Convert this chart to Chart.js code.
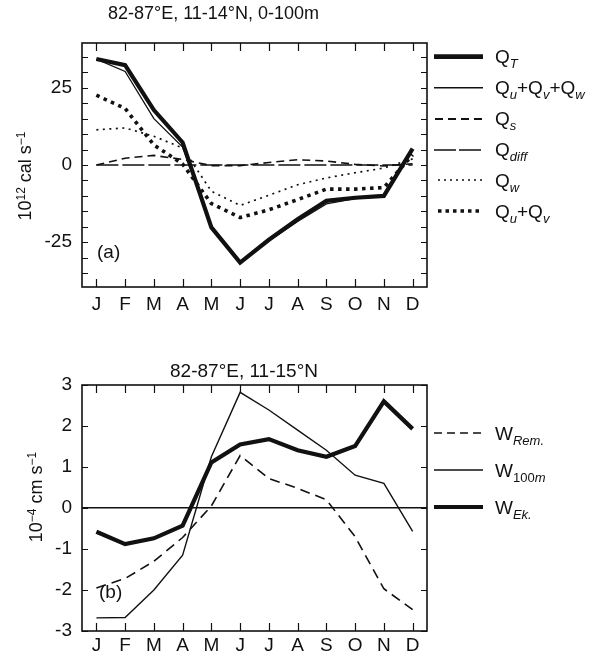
<!DOCTYPE html>
<html>
<head>
<meta charset="utf-8">
<script src="https://cdn.jsdelivr.net/npm/chart.js@4.4.1/dist/chart.umd.min.js"></script>
<style>
  html, body { margin:0; padding:0; background:#fff; }
  body { width:597px; height:654px; position:relative; overflow:hidden;
         font-family:"Liberation Sans", Arial, Helvetica, sans-serif; color:#111; }
  canvas { position:absolute; left:0; }
  .ytitle { position:absolute; white-space:nowrap; font-size:18px; line-height:20px;
            transform:translate(-50%,-50%) rotate(-90deg); }
  .ytitle sup { font-size:12px; vertical-align:6px; line-height:0; }
  .ptitle { position:absolute; white-space:nowrap; font-size:19px; line-height:20px;
            transform:translate(-50%,-50%); }
  .lbl { position:absolute; font-size:19px; line-height:20px; white-space:nowrap; }
  .leg { position:absolute; left:434px; }
  .legtxt { position:absolute; left:495px; font-size:19px; line-height:20px; white-space:nowrap; }
  .legtxt sub { font-size:13px; font-style:italic; vertical-align:-5px; line-height:0; }
  .legtxt sub span { font-style:normal; }
</style>
</head>
<body>
<canvas id="ca" width="488" height="318" style="top:0px"></canvas>
<canvas id="cb" width="488" height="314" style="top:340px"></canvas>

<div class="ptitle" style="left:244px; top:371px;">82-87°E, 11-15°N</div>
<div class="ytitle" style="left:25px; top:176px;">10<sup>12</sup> cal s<sup>−1</sup></div>
<div class="ytitle" style="left:36px; top:497px;">10<sup>−4</sup> cm s<sup>−1</sup></div>
<div class="lbl" style="left:97px; top:242px;">(a)</div>
<div class="lbl" style="left:99px; top:582px;">(b)</div>

<svg class="leg" style="top:47px" width="50" height="120">
  <line x1="0" x2="49" y1="9.7" y2="9.7" stroke="#111" stroke-width="4.8"/>
  <line x1="0" x2="49" y1="40.7" y2="40.7" stroke="#111" stroke-width="1.4"/>
  <line x1="1" x2="49" y1="72" y2="72" stroke="#111" stroke-width="1.8" stroke-dasharray="8 5"/>
  <line x1="0" x2="49" y1="103" y2="103" stroke="#111" stroke-width="1.4" stroke-dasharray="22 3"/>
</svg>
<svg class="leg" style="top:170px" width="50" height="50">
  <line x1="4" x2="49" y1="10" y2="10" stroke="#111" stroke-width="1.6" stroke-dasharray="2 4"/>
  <line x1="4" x2="49" y1="41" y2="41" stroke="#111" stroke-width="3.5" stroke-dasharray="3.5 4"/>
</svg>
<div class="legtxt" style="top:47px">Q<sub>T</sub></div>
<div class="legtxt" style="top:78px">Q<sub>u</sub>+Q<sub>v</sub>+Q<sub>w</sub></div>
<div class="legtxt" style="top:109px">Q<sub>s</sub></div>
<div class="legtxt" style="top:140px">Q<sub>diff</sub></div>
<div class="legtxt" style="top:171px">Q<sub>w</sub></div>
<div class="legtxt" style="top:202px">Q<sub>u</sub>+Q<sub>v</sub></div>

<svg class="leg" style="top:423px" width="50" height="95">
  <line x1="0" x2="49" y1="10" y2="10" stroke="#111" stroke-width="1.6" stroke-dasharray="8 5"/>
  <line x1="0" x2="49" y1="47" y2="47" stroke="#111" stroke-width="1.5"/>
  <line x1="0" x2="49" y1="84" y2="84" stroke="#111" stroke-width="4.2"/>
</svg>
<div class="legtxt" style="top:424px">W<sub>Rem.</sub></div>
<div class="legtxt" style="top:461px">W<sub><span>100</span>m</sub></div>
<div class="legtxt" style="top:498px">W<sub>Ek.</sub></div>

<script>
// ---------- data ----------
const months = ['J','F','M','A','M','J','J','A','S','O','N','D'];

// panel (a): 10^12 cal s^-1
const qT    = [34.3, 32.3, 17.8, 7.3, -20.2, -31.6, -24.2, -17.6, -11.6, -10.6, -10.0, 5.3];
const qUVW  = [34.3, 30.3, 15.0, 5.8, -20.0, -31.4, -24.6, -18.3, -12.6, -10.9, -10.2, 4.8];
const qS    = [0.0, 2.2, 3.1, 1.8, -0.2, -0.2, 0.8, 1.7, 1.3, 0.2, -0.3, 0.4];
const qDiff = [0, 0, 0, 0, 0, 0, 0, 0, 0, 0, 0, 0];
const qW    = [11.4, 12.0, 9.3, 5.5, -8.5, -13.1, -9.8, -6.4, -4.2, -2.5, -1.0, 2.0];
const qUV   = [22.6, 18.3, 6.5, 0.3, -12.5, -17.0, -14.5, -11.2, -7.8, -7.8, -7.3, 3.3];
const yTicksA = [-35,-30,-25,-20,-15,-10,-5,0,5,10,15,20,25,30,35];
const yLabelsA = [-25, 0, 25];

// panel (b): 10^-4 cm s^-1
const wRem  = [-1.95, -1.72, -1.30, -0.72, 0.05, 1.28, 0.72, 0.48, 0.20, -0.70, -1.97, -2.48];
const w100  = [-2.68, -2.67, -2.00, -1.15, 1.25, 2.82, 2.39, 1.90, 1.41, 0.80, 0.60, -0.57];
const wEk   = [-0.58, -0.88, -0.74, -0.43, 1.11, 1.55, 1.68, 1.41, 1.25, 1.51, 2.60, 1.93];
const yTicksB = [-3,-2,-1,0,1,2,3];

// ---------- helpers ----------
const FONT = '"Liberation Sans", Arial, Helvetica, sans-serif';
const INK = '#111';

const frame = {
  id: 'frame',
  afterDraw(chart, args, opts) {
    const {ctx, chartArea:{left,right,top,bottom}, scales:{x,y}} = chart;
    ctx.save();
    ctx.strokeStyle = INK;
    ctx.lineWidth = 1.2;
    ctx.beginPath();
    x.ticks.forEach((t,i) => {
      const px = Math.round(x.getPixelForTick(i)) + 0.5;
      ctx.moveTo(px, top); ctx.lineTo(px, top + opts.xLen);
      ctx.moveTo(px, bottom); ctx.lineTo(px, bottom - opts.xLen);
    });
    y.ticks.forEach(t => {
      const py = Math.round(y.getPixelForValue(t.value)) + 0.5;
      ctx.moveTo(left, py); ctx.lineTo(left + opts.yLen, py);
      ctx.moveTo(right, py); ctx.lineTo(right - opts.yLen, py);
    });
    ctx.stroke();
    ctx.lineWidth = 1.6;
    ctx.strokeRect(left, top, right - left, bottom - top);
    ctx.restore();
  }
};

function ds(data, width, dash) {
  return { data, borderColor: INK, borderWidth: width, borderDash: dash || [],
           pointRadius: 0, tension: 0, fill: false, borderCapStyle: 'butt', borderJoinStyle: 'miter' };
}

function makeOpts(cfg) {
  return {
    responsive: false, animation: false, devicePixelRatio: 1,
    layout: { padding: { left: 0, right: 61, top: cfg.padT, bottom: 0 } },
    plugins: {
      legend: { display: false }, tooltip: { enabled: false },
      title: cfg.title ? { display: true, text: cfg.title, color: INK,
               font: { family: FONT, size: 18, weight: 'normal', lineHeight: 1.2 },
               padding: { top: 3, bottom: 18.4 } } : { display: false },
      frame: { xLen: 8, yLen: 6 }
    },
    scales: {
      x: { type: 'category', offset: true,
           grid: { display: false, drawTicks: false }, border: { display: false },
           ticks: { color: INK, font: { family: FONT, size: 19 }, padding: cfg.xPad, maxRotation: 0, autoSkip: false },
           afterFit: s => { s.height = cfg.xH; } },
      y: { type: 'linear', min: cfg.min, max: cfg.max,
           afterBuildTicks: s => { s.ticks = cfg.yTicks.map(v => ({ value: v })); },
           grid: cfg.grid, border: { display: false },
           ticks: { color: INK, font: { family: FONT, size: 19 }, padding: 10, autoSkip: false,
                    callback: cfg.cb },
           afterFit: s => { s.width = 82; } }
    }
  };
}

new Chart(document.getElementById('ca'), {
  type: 'line',
  data: { labels: months, datasets: [
    ds(qDiff, 1.5, [22, 4]),
    ds(qS, 1.6, [8, 5]),
    ds(qW, 1.7, [2, 4.5]),
    ds(qUV, 3.6, [3.5, 4.5]),
    ds(qUVW, 1.3),
    ds(qT, 4.2)
  ]},
  options: makeOpts({
    title: '82-87°E, 11-14°N, 0-100m', padT: 0,
    xPad: 6, xH: 31, min: -39.5, max: 39.5, yTicks: yTicksA,
    grid: { display: false, drawTicks: false },
    cb: v => yLabelsA.includes(v) ? String(v) : ''
  }),
  plugins: [frame]
});

new Chart(document.getElementById('cb'), {
  type: 'line',
  data: { labels: months, datasets: [
    ds(wRem, 1.6, [10, 6]),
    ds(w100, 1.4),
    ds(wEk, 4.2)
  ]},
  options: makeOpts({
    title: null, padT: 45,
    xPad: 3, xH: 23, min: -3, max: 3, yTicks: yTicksB,
    grid: { display: true, drawOnChartArea: true, drawTicks: false, lineWidth: 1.5,
            color: c => (c.tick && c.tick.value === 0) ? INK : 'rgba(0,0,0,0)' },
    cb: v => String(v)
  }),
  plugins: [frame]
});
</script>
</body>
</html>
